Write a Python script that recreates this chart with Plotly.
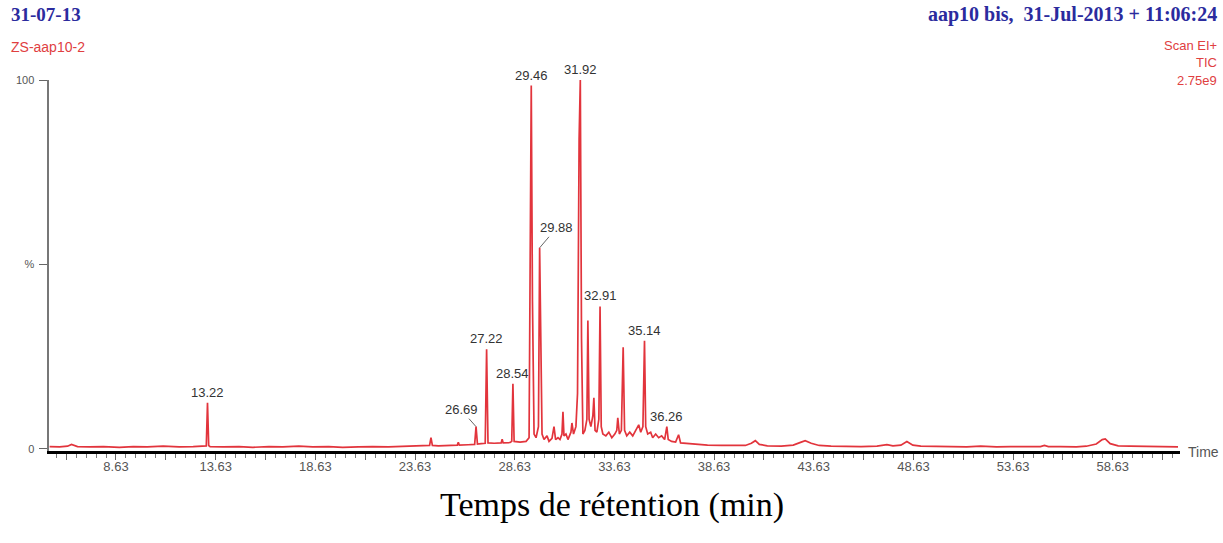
import plotly.graph_objects as go

# ---------------- data ----------------
time_min = [
    5.3, 5.8, 6.2, 6.4, 6.7, 7.3, 8.0, 8.8, 9.5, 10.2, 11.0, 11.8, 12.5, 13.1, 13.16, 13.22, 13.28, 13.35,
    14.0, 14.8, 15.5, 16.3, 17.0, 17.8, 18.5, 19.3, 20.0, 20.8, 21.5, 22.3, 23.0, 23.6, 24.2, 24.36, 24.43, 24.5,
    24.8, 25.3, 25.75, 25.8, 25.85, 26.3, 26.62, 26.69, 26.76, 26.95, 27.15, 27.22, 27.29, 27.6, 27.95, 28.0,
    28.05, 28.4, 28.48, 28.54, 28.6, 28.9, 29.2, 29.35, 29.4, 29.46, 29.52, 29.6, 29.7, 29.82, 29.88, 29.94,
    30.0, 30.1, 30.25, 30.35, 30.5, 30.6, 30.68, 30.8, 30.9, 31.0, 31.05, 31.1, 31.2, 31.3, 31.45, 31.5, 31.58,
    31.7, 31.78, 31.86, 31.92, 31.98, 32.05, 32.15, 32.25, 32.3, 32.36, 32.45, 32.55, 32.6, 32.66, 32.75, 32.85,
    32.91, 32.97, 33.05, 33.2, 33.35, 33.5, 33.65, 33.75, 33.8, 33.88, 33.98, 34.07, 34.14, 34.25, 34.4, 34.55,
    34.7, 34.85, 34.95, 35.06, 35.14, 35.2, 35.3, 35.45, 35.55, 35.7, 35.85, 36.0, 36.15, 36.26, 36.33, 36.5,
    36.7, 36.85, 36.95, 37.3, 37.8, 38.3, 39.0, 39.6, 40.2, 40.5, 40.7, 40.9, 41.3, 42.0, 42.6, 43.0, 43.2,
    43.5, 43.9, 44.5, 45.2, 46.0, 46.8, 47.3, 47.6, 48.0, 48.3, 48.6, 49.0, 49.8, 50.5, 51.3, 52.0, 52.8,
    53.5, 54.3, 55.0, 55.2, 55.4, 56.0, 56.8, 57.3, 57.8, 58.1, 58.25, 58.5, 58.9, 59.5, 60.2, 61.0, 61.9,
]
intensity_pct = [
    0.6, 0.5, 0.7, 1.2, 0.6, 0.5, 0.6, 0.4, 0.6, 0.5, 0.7, 0.5, 0.6, 0.7, 0.8, 12.5, 0.9, 0.6,
    0.5, 0.6, 0.4, 0.6, 0.5, 0.7, 0.5, 0.6, 0.4, 0.5, 0.6, 0.5, 0.6, 0.7, 0.8, 0.9, 3.0, 0.9,
    0.8, 0.9, 1.0, 1.8, 1.0, 1.1, 1.2, 6.0, 1.3, 1.4, 1.5, 27.0, 1.6, 1.5, 1.6, 2.6,
    1.6, 1.7, 2.0, 17.6, 2.0, 1.8, 2.0, 3.0, 55.0, 98.5, 40.0, 4.0, 3.0, 6.0, 54.5, 20.0,
    4.0, 2.5, 3.5, 2.0, 2.8, 6.0, 2.5, 3.0, 2.5, 4.0, 10.0, 3.5, 4.0, 2.5, 4.5, 7.0, 4.0,
    6.0, 15.0, 84.0, 100.0, 30.0, 4.0, 5.0, 8.0, 34.8, 8.0, 6.0, 9.0, 13.8, 5.0, 4.5, 8.0,
    38.6, 6.0, 4.0, 3.5, 4.5, 3.0, 4.0, 5.0, 8.4, 4.0, 5.0, 27.5, 5.0, 3.5, 4.5, 3.5,
    5.0, 6.5, 4.5, 6.0, 29.3, 6.0, 4.0, 4.5, 3.0, 4.0, 3.0, 3.5, 2.5, 6.0, 2.5, 2.0,
    1.8, 3.8, 1.6, 1.4, 1.2, 1.0, 0.9, 0.8, 0.9, 1.5, 2.2, 1.2, 0.8, 0.7, 1.0, 1.8, 2.2,
    1.5, 0.9, 0.7, 0.6, 0.6, 0.7, 1.1, 0.8, 1.0, 2.0, 1.0, 0.7, 0.6, 0.6, 0.5, 0.7, 0.5,
    0.6, 0.5, 0.6, 0.9, 0.6, 0.6, 0.5, 0.7, 1.3, 2.5, 2.7, 1.4, 0.8, 0.7, 0.6, 0.5, 0.5,
]

peak_labels = ["13.22", "26.69", "27.22", "28.54", "29.46", "29.88", "31.92", "32.91", "35.14", "36.26"]
peak_times = [13.22, 26.69, 27.22, 28.54, 29.46, 29.88, 31.92, 32.91, 35.14, 36.26]
peak_heights = [12.5, 6.0, 27.0, 17.6, 98.5, 54.5, 100.0, 38.6, 29.3, 6.0]

x_tick_labels = ["8.63", "13.63", "18.63", "23.63", "28.63", "33.63", "38.63", "43.63", "48.63", "53.63", "58.63"]
y_tick_vals = [0, 50, 100]
y_tick_text = ["0", "%", "100"]

# ---------------- layout geometry (page body margin removed below) ----------------
W, H = 1223, 543
L = 49
R = W - 1180
T = 80
B = H - 451
PW, PH = W - L - R, H - T - B


def px(xp):
    return (xp - L) / PW


def py(yp):
    return (H - B - yp) / PH


fig = go.Figure()
fig.add_trace(go.Scatter(
    x=time_min, y=intensity_pct, mode="lines",
    line=dict(color="#e2343c", width=1.7), hoverinfo="skip", showlegend=False,
))

# x tick positions: labelled every 5, unlabelled every 2.5
major_vals = []
major_text = []
lab = {float(s): s for s in x_tick_labels}
v = 6.13
while v < 62:
    vv = round(v, 2)
    major_vals.append(vv)
    major_text.append(lab.get(vv, ""))
    v += 2.5

lbl_font = dict(family="Liberation Sans, Arial", size=13, color="#333")
annotations = []
leader = {"26.69": (-15, -17), "29.88": (17, -20)}
for lbl, t, h in zip(peak_labels, peak_times, peak_heights):
    if lbl in leader:
        ax, ay = leader[lbl]
        annotations.append(dict(x=t, y=h, xref="x", yref="y", text=lbl, showarrow=True,
                                arrowhead=0, arrowwidth=1, arrowcolor="#666", ax=ax, ay=ay,
                                font=lbl_font))
    else:
        annotations.append(dict(x=t, y=h, xref="x", yref="y", text=lbl, showarrow=False,
                                yanchor="bottom", yshift=1, font=lbl_font))

blue = "#2b2b9e"
red = "#e0403f"
annotations += [
    dict(x=px(9), y=py(15), xref="paper", yref="paper", text="<b>31-07-13</b>", showarrow=False,
         xanchor="left", yanchor="middle", font=dict(family="Liberation Serif", size=19, color=blue)),
    dict(x=px(9), y=py(47), xref="paper", yref="paper", text="ZS-aap10-2", showarrow=False,
         xanchor="left", yanchor="middle", font=dict(family="Liberation Sans", size=14, color=red)),
    dict(x=px(1219), y=py(15), xref="paper", yref="paper",
         text="<b>aap10 bis,  31-Jul-2013 + 11:06:24</b>", showarrow=False,
         xanchor="right", yanchor="middle", font=dict(family="Liberation Serif", size=20, color=blue)),
    dict(x=px(1219), y=py(45), xref="paper", yref="paper", text="Scan EI+", showarrow=False,
         xanchor="right", yanchor="middle", font=dict(family="Liberation Sans", size=13, color=red)),
    dict(x=px(1219), y=py(62), xref="paper", yref="paper", text="TIC", showarrow=False,
         xanchor="right", yanchor="middle", font=dict(family="Liberation Sans", size=13, color=red)),
    dict(x=px(1219), y=py(80), xref="paper", yref="paper", text="2.75e9", showarrow=False,
         xanchor="right", yanchor="middle", font=dict(family="Liberation Sans", size=13, color=red)),
    dict(x=px(1186), y=py(452), xref="paper", yref="paper", text="Time", showarrow=False,
         xanchor="left", yanchor="middle", font=dict(family="Liberation Sans", size=14, color="#555")),
    dict(x=px(612), y=py(505), xref="paper", yref="paper", text="Temps de rétention (min)",
         showarrow=False, xanchor="center", yanchor="middle",
         font=dict(family="Liberation Serif", size=34, color="#000")),
]

fig.update_layout(
    width=W, height=H,
    margin=dict(l=L, r=R, t=T, b=B, pad=0),
    paper_bgcolor="white", plot_bgcolor="white",
    annotations=annotations,
    xaxis=dict(range=[5.27, 62.0], showgrid=False, zeroline=False,
               showline=True, linecolor="#000", linewidth=2.5,
               tickmode="array", tickvals=major_vals, ticktext=major_text,
               ticks="outside", ticklen=6, tickcolor="#666", tickwidth=1,
               ticklabelstandoff=-4,
               tickfont=dict(family="Liberation Sans, Arial", size=13, color="#555"),
               minor=dict(dtick=0.5, tick0=8.63, ticks="outside", ticklen=4,
                          tickcolor="#777", tickwidth=1, showgrid=False)),
    yaxis=dict(range=[-0.6, 100], showgrid=False, zeroline=False,
               showline=True, linecolor="#777", linewidth=2.5,
               tickmode="array", tickvals=y_tick_vals, ticktext=y_tick_text,
               ticks="outside", ticklen=8, tickcolor="#666", tickwidth=1,
               ticklabelstandoff=2,
               tickfont=dict(family="Liberation Sans, Arial", size=11, color="#555")),
)

fig.write_html(
    "out.html",
    config={"displayModeBar": False, "staticPlot": True},
    post_script="document.body.style.margin='0';document.body.style.overflow='hidden';",
)
